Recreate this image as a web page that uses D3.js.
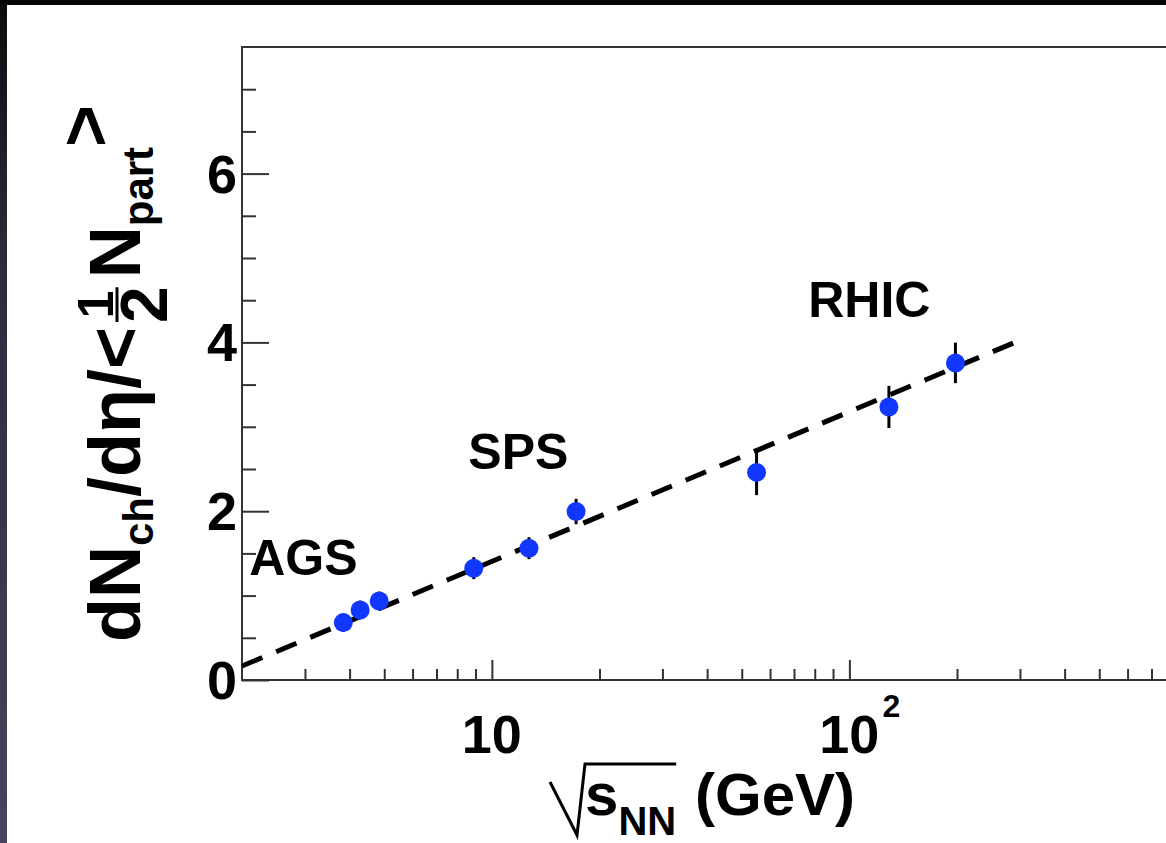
<!DOCTYPE html>
<html>
<head>
<meta charset="utf-8">
<script src="https://cdn.jsdelivr.net/npm/d3@7"></script>
<style>
  html, body { margin: 0; padding: 0; background: #fff; overflow: hidden; }
  svg { display: block; }
  text { font-family: "Liberation Sans", Arial, Helvetica, sans-serif; font-weight: bold; fill: #000; }
</style>
</head>
<body>
<svg id="chart" width="1166" height="843"></svg>
<script>
// ---------------- data ----------------
const groups   = ["AGS", "AGS", "AGS", "SPS", "SPS", "SPS", "RHIC", "RHIC", "RHIC"];
const sqrtS    = [3.84, 4.28, 4.84, 8.9, 12.7, 17.2, 55, 129, 198];
const dNdEta   = [0.68, 0.83, 0.937, 1.325, 1.562, 1.996, 2.46, 3.235, 3.757];
const errY     = [0.11, 0.11, 0.11, 0.13, 0.13, 0.15, 0.27, 0.25, 0.24];
const fitX     = [2, 300];
const fitY     = [0.166, 4.025];
const annText  = ["AGS", "SPS", "RHIC"];
const annX     = [2.095, 8.59, 76.7];
const annY     = [1.246, 2.503, 4.306];
const yMajor   = [0, 2, 4, 6];
const yMinor   = [0.5, 1, 1.5, 2.5, 3, 3.5, 4.5, 5, 5.5, 6.5, 7];
const xMajor   = [10, 100];
const xMajorLabels = [["10", ""], ["10", "2"]];
const xMinor   = [3, 4, 5, 6, 7, 8, 9, 20, 30, 40, 50, 60, 70, 80, 90, 200, 300, 400, 500, 600, 700, 800, 900];

// ---------------- layout ----------------
const W = 1166, H = 843;
const L = 242, T = 47, B = 680;
const decade = 357.5;
const svg = d3.select("#chart");

// background bands
const defs = svg.append("defs");
const grad = defs.append("linearGradient").attr("id", "lband").attr("x1", 0).attr("y1", 0).attr("x2", 0).attr("y2", 1);
grad.append("stop").attr("offset", "0%").attr("stop-color", "#0c0c0e");
grad.append("stop").attr("offset", "30%").attr("stop-color", "#2c2a3a");
grad.append("stop").attr("offset", "100%").attr("stop-color", "#48435e");
svg.append("rect").attr("x", 0).attr("y", 0).attr("width", W).attr("height", H).attr("fill", "#fff");
svg.append("rect").attr("x", 0).attr("y", 0).attr("width", 7).attr("height", H).attr("fill", "url(#lband)");
svg.append("rect").attr("x", 0).attr("y", 0).attr("width", W).attr("height", 5).attr("fill", "#060606");

// scales
const x = d3.scaleLog().domain([2, 1000]).range([L, L + decade * Math.log10(500)]);
const y = d3.scaleLinear().domain([0, 7.5]).range([B, T]);

const frameColor = "#333";

// axes (ticks only, inward)
function styleAxis(g) {
  g.select(".domain").remove();
  g.selectAll(".tick line").attr("stroke", frameColor).attr("stroke-width", 2);
  g.selectAll(".tick text").remove();
}
svg.append("g").attr("transform", `translate(0,${B})`)
  .call(d3.axisBottom(x).tickValues(xMinor).tickSize(-11).tickFormat("")).call(styleAxis);
svg.append("g").attr("transform", `translate(0,${B})`)
  .call(d3.axisBottom(x).tickValues(xMajor).tickSize(-20).tickFormat("")).call(styleAxis);
svg.append("g").attr("transform", `translate(${L},0)`)
  .call(d3.axisLeft(y).tickValues(yMinor).tickSize(-14).tickFormat("")).call(styleAxis);
svg.append("g").attr("transform", `translate(${L},0)`)
  .call(d3.axisLeft(y).tickValues(yMajor).tickSize(-27).tickFormat("")).call(styleAxis);

// frame
svg.append("path")
  .attr("d", `M${x(1000)},${B}H${L}V${T}H${x(1000)}`)
  .attr("fill", "none").attr("stroke", frameColor).attr("stroke-width", 2);

// y tick labels
svg.append("g").selectAll("text").data(yMajor).join("text")
  .attr("x", L - 5).attr("y", d => y(d)).attr("dy", "0.35em")
  .attr("text-anchor", "end").attr("font-size", 54).text(d => d);

// x tick labels
const xl = svg.append("g").selectAll("g").data(xMajor).join("g");
xl.append("text").attr("x", d => x(d)).attr("y", 753).attr("text-anchor", "middle")
  .attr("font-size", 54).text((d, i) => xMajorLabels[i][0]);
xl.append("text").attr("x", d => x(d) + 33).attr("y", 717).attr("text-anchor", "start")
  .attr("font-size", 32).text((d, i) => xMajorLabels[i][1]);

// fit line
const fit = fitX.map((v, i) => [v, fitY[i]]);
svg.append("path").datum(fit)
  .attr("d", d3.line().x(d => x(d[0])).y(d => y(d[1])))
  .attr("fill", "none").attr("stroke", "#000").attr("stroke-width", 5)
  .attr("stroke-dasharray", "22,15");

// error bars
const pts = sqrtS.map((v, i) => ({ x: v, y: dNdEta[i], e: errY[i], g: groups[i] }));
svg.append("g").selectAll("line").data(pts).join("line")
  .attr("x1", d => x(d.x)).attr("x2", d => x(d.x))
  .attr("y1", d => y(d.y - d.e)).attr("y2", d => y(d.y + d.e))
  .attr("stroke", "#000").attr("stroke-width", 3);

// points
svg.append("g").selectAll("circle").data(pts).join("circle")
  .attr("cx", d => x(d.x)).attr("cy", d => y(d.y)).attr("r", 9.5)
  .attr("fill", "#1238ff");

// annotations
svg.append("g").selectAll("text").data(annText).join("text")
  .attr("x", (d, i) => x(annX[i])).attr("y", (d, i) => y(annY[i]))
  .attr("font-size", 50).text(d => d);

// ---------------- y-axis title (rotated) ----------------
const yt = svg.append("g").attr("transform", "translate(140,642) rotate(-90)");
let cx = 0;
function piece(str, size, dy) {
  const t = yt.append("text").attr("x", cx).attr("y", dy).attr("font-size", size).text(str);
  cx += t.node().getComputedTextLength();
  return t;
}
piece("dN", 72, 0);
piece("ch", 42, 13);
piece("/d\u03B7/<", 72, 0);
// fraction 1/2
{
  const start = cx + 4;
  const den = yt.append("text").attr("x", start).attr("y", 27).attr("font-size", 66).text("2");
  const w = den.node().getComputedTextLength();
  yt.append("text").attr("x", start + w / 2).attr("y", -27).attr("font-size", 50)
    .attr("text-anchor", "middle").text("1");
  yt.append("line").attr("x1", start + 1).attr("x2", start + w - 1)
    .attr("y1", -23).attr("y2", -23).attr("stroke", "#000").attr("stroke-width", 3);
  cx = start + w + 8;
}
piece("N", 72, 0);
piece("part", 42, 13);
piece(">", 72, -30);

// ---------------- x-axis title ----------------
const xt = svg.append("g");
const sText = xt.append("text").attr("x", 585).attr("y", 815).attr("font-size", 60).text("s");
const sW = sText.node().getComputedTextLength();
const nnText = xt.append("text").attr("x", 585 + sW).attr("y", 835).attr("font-size", 40).text("NN");
const nnW = nnText.node().getComputedTextLength();
xt.append("text").attr("x", 695).attr("y", 815).attr("font-size", 60).text("(GeV)");
const rEnd = 585 + sW + nnW;
xt.append("path")
  .attr("d", d3.line()([[550, 782], [577, 835], [585, 764], [rEnd, 764]]))
  .attr("fill", "none").attr("stroke", "#000").attr("stroke-width", 3);
</script>
</body>
</html>
